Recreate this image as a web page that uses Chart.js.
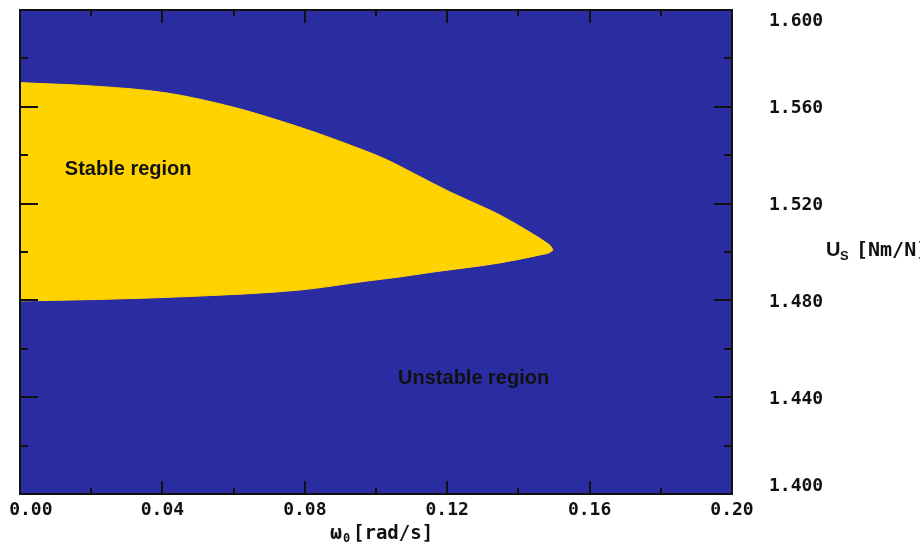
<!DOCTYPE html>
<html>
<head>
<meta charset="utf-8">
<script src="https://cdn.jsdelivr.net/npm/chart.js@4"></script>
<style>
  html, body { margin: 0; padding: 0; background: #fff; }
  canvas { display: block; }
</style>
</head>
<body>
<canvas id="chart" width="920" height="544"></canvas>
<script>
// ==================== data ====================
// upper boundary of the stable region (omega0 [rad/s] -> Us [Nm/N])
const omegaUpper = [0, 0.0225, 0.0413, 0.0598, 0.0739, 0.0834, 0.0927, 0.1020, 0.1115, 0.1208, 0.1301, 0.1348, 0.1441, 0.1480, 0.1492, 0.1497];
const usUpper    = [1.5700, 1.5684, 1.5657, 1.5599, 1.5538, 1.5492, 1.5442, 1.5388, 1.5318, 1.5248, 1.5186, 1.5153, 1.5074, 1.5037, 1.5022, 1.5008];
// lower boundary
const omegaLower = [0, 0.0225, 0.0506, 0.0787, 0.0975, 0.1067, 0.1160, 0.1348, 0.1461, 0.1488, 0.1497];
const usLower    = [1.4798, 1.4804, 1.4818, 1.4843, 1.4880, 1.4897, 1.4917, 1.4955, 1.4988, 1.4998, 1.5008];

const xTicks = [0.00, 0.04, 0.08, 0.12, 0.16, 0.20];
const xMinorTicks = [0.02, 0.06, 0.10, 0.14, 0.18];
const yTicks = [1.40, 1.44, 1.48, 1.52, 1.56, 1.60];
const yMinorTicks = [1.42, 1.46, 1.50, 1.54, 1.58];

const regionNames = ['Stable region', 'Unstable region'];
const regionOmega = [0.0126, 0.1062];
const regionUs = [1.5339, 1.4479];

const BLUE = '#2a2ca2';
const YELLOW = '#ffd300';
const INK = '#111111';
const MONO = '"DejaVu Sans Mono", monospace';
const SANS = '"Liberation Sans", Arial, sans-serif';

// ==================== frame / ticks / texts ====================
const framePlugin = {
  id: 'frame',
  beforeDraw(chart) {
    const { ctx, chartArea: a } = chart;
    ctx.save();
    ctx.fillStyle = BLUE;
    ctx.fillRect(a.left, a.top, a.width, a.height);
    ctx.restore();
  },
  afterDatasetsDraw(chart) {
    const { ctx, chartArea: a, scales: { x, y } } = chart;
    ctx.save();
    ctx.strokeStyle = INK;
    ctx.lineWidth = 2;
    ctx.beginPath();
    const tickX = (vals, len) => vals.forEach(v => {
      const px = Math.round(x.getPixelForValue(v));
      ctx.moveTo(px, a.top); ctx.lineTo(px, a.top + len);
      ctx.moveTo(px, a.bottom); ctx.lineTo(px, a.bottom - len);
    });
    const tickY = (vals, len) => vals.forEach(v => {
      const py = Math.round(y.getPixelForValue(v));
      ctx.moveTo(a.left, py); ctx.lineTo(a.left + len, py);
      ctx.moveTo(a.right, py); ctx.lineTo(a.right - len, py);
    });
    tickX(xTicks, 13); tickX(xMinorTicks, 6);
    tickY(yTicks, 18); tickY(yMinorTicks, 8);
    ctx.stroke();
    ctx.strokeRect(a.left, a.top, a.width, a.height);

    // region names
    ctx.fillStyle = INK;
    ctx.font = 'bold 20px ' + SANS;
    ctx.textAlign = 'left';
    ctx.textBaseline = 'middle';
    regionNames.forEach((t, i) => {
      ctx.fillText(t, x.getPixelForValue(regionOmega[i]), y.getPixelForValue(regionUs[i]));
    });

    // axis titles with subscripts
    ctx.textBaseline = 'alphabetic';
    ctx.font = 'bold 20px ' + SANS;
    ctx.fillText('U', 826, 256);
    ctx.font = 'bold 13px ' + SANS;
    ctx.fillText('S', 840, 260);
    ctx.font = 'bold 20px ' + MONO;
    ctx.fillText('[Nm/N]', 856, 256);

    ctx.font = 'bold 20px ' + MONO;
    ctx.fillText('ω', 330, 539);
    ctx.font = 'bold 12px ' + MONO;
    ctx.fillText('0', 343, 542);
    ctx.font = 'bold 19px ' + MONO;
    ctx.fillText('[rad/s]', 353, 539);
    ctx.restore();
  }
};

const tickFont = { family: MONO, size: 18, weight: 'bold', lineHeight: 1.05 };

new Chart(document.getElementById('chart'), {
  type: 'line',
  data: {
    datasets: [
      { data: omegaUpper.map((o, i) => ({ x: o, y: usUpper[i] })), fill: '+1', backgroundColor: YELLOW, borderColor: YELLOW, borderWidth: 1, pointRadius: 0, cubicInterpolationMode: 'monotone' },
      { data: omegaLower.map((o, i) => ({ x: o, y: usLower[i] })), fill: false, borderColor: YELLOW, borderWidth: 1, pointRadius: 0, cubicInterpolationMode: 'monotone' }
    ]
  },
  options: {
    responsive: false, animation: false, devicePixelRatio: 1, events: [],
    layout: { padding: { left: 20, top: 10, right: 0, bottom: 0 } },
    plugins: { legend: { display: false }, tooltip: { enabled: false } },
    scales: {
      x: {
        type: 'linear', min: 0, max: 0.2,
        afterBuildTicks: s => { s.ticks = xTicks.map(v => ({ value: v })); },
        afterFit: s => { s.height = 50; s.paddingLeft = 0; s.paddingRight = 0; },
        grid: { display: false }, border: { display: false },
        ticks: { autoSkip: false, maxRotation: 0, padding: -1, color: INK, font: tickFont,
          callback: v => (v === 0 ? '  ' : '') + v.toFixed(2) }
      },
      y: {
        type: 'linear', position: 'right', min: 1.4, max: 1.6,
        afterBuildTicks: s => { s.ticks = yTicks.map(v => ({ value: v })); },
        afterFit: s => { s.width = 188; s.paddingTop = 0; s.paddingBottom = 0; },
        grid: { display: false }, border: { display: false },
        ticks: { padding: 29, labelOffset: 2, color: INK, font: tickFont,
          callback: v => {
            const s = v.toFixed(3);
            if (Math.abs(v - 1.6) < 1e-9) return ['', s];
            if (Math.abs(v - 1.4) < 1e-9) return [s, ''];
            return s;
          } }
      }
    }
  },
  plugins: [framePlugin]
});
</script>
</body>
</html>
